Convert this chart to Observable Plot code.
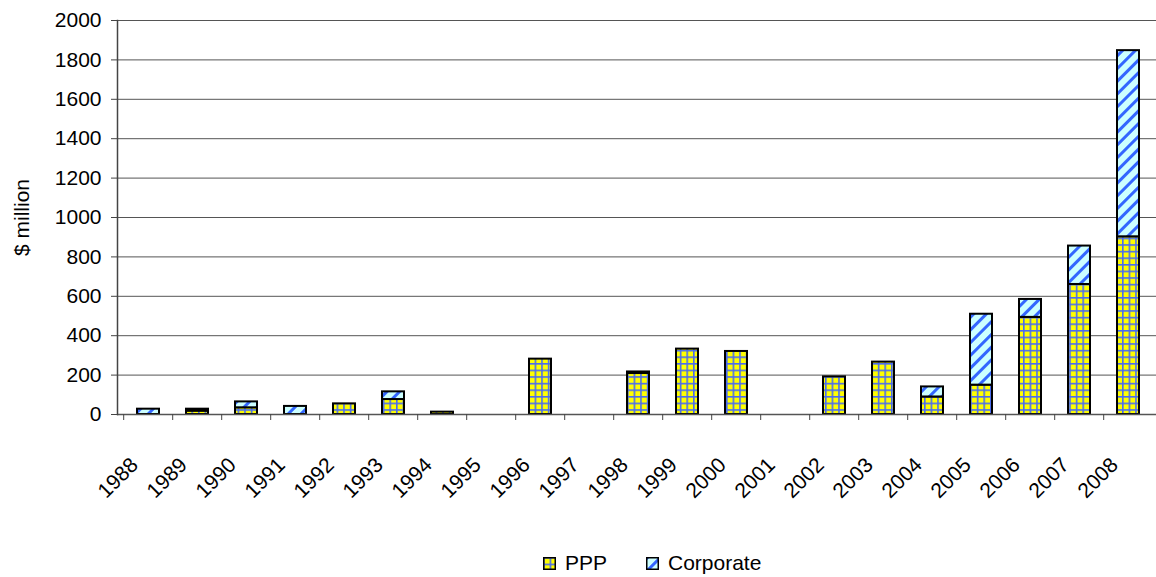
<!DOCTYPE html>
<html>
<head>
<meta charset="utf-8">
<script src="https://cdn.jsdelivr.net/npm/d3@7"></script>
<script src="https://cdn.jsdelivr.net/npm/@observablehq/plot@0.6"></script>
<style>
  html, body { margin: 0; padding: 0; background: #fff; }
  #wrap { position: relative; width: 1156px; height: 577px; overflow: hidden; font-family: "Liberation Sans", Arial, sans-serif; }
  .leg { position: absolute; top: 551px; display: flex; align-items: center; font-size: 21px; color: #000; }
  .leg svg { margin-right: 9px; }
</style>
</head>
<body>
<div id="wrap"></div>
<script>
// ---- data ----
const years = ["1988","1989","1990","1991","1992","1993","1994","1995","1996","1997","1998","1999","2000","2001","2002","2003","2004","2005","2006","2007","2008"];
const ppp       = [0, 17, 34, 0, 54, 76, 12, 0, 281, 0, 208, 332, 320, 0, 191, 266, 89, 149, 493, 660, 902];
const corporate = [27, 10, 30, 41, 0, 39, 0, 0, 0, 0, 8, 0, 0, 0, 0, 0, 51, 360, 91, 195, 945];
const seriesNames = ["PPP", "Corporate"];
const yTicks = [0, 200, 400, 600, 800, 1000, 1200, 1400, 1600, 1800, 2000];
const yLabel = "$ million";

const data = years.flatMap((y, i) => [
  {year: y, series: "PPP", value: ppp[i]},
  {year: y, series: "Corporate", value: corporate[i]}
]);

// ---- layout ----
const W = 1156, H = 540;
const mLeft = 117, mTop = 20, mBottom = 126;
const xRange = [mLeft, 1159];
const step = (xRange[1] - xRange[0]) / years.length;
const FONT = "'Liberation Sans', Arial, sans-serif";
const FS = 21;

const chart = Plot.plot({
  width: W,
  height: H,
  marginLeft: mLeft,
  marginRight: 0,
  marginTop: mTop,
  marginBottom: mBottom,
  style: {fontFamily: FONT, fontSize: FS + "px", color: "#000", background: "#fff", overflow: "hidden"},
  x: {domain: years, range: xRange, paddingInner: 0.55, paddingOuter: 0.275, label: null},
  y: {domain: [0, 2000], label: null},
  color: {type: "ordinal", domain: seriesNames, range: ["url(#pat-ppp)", "url(#pat-corp)"]},
  marks: [
    Plot.gridY(yTicks, {stroke: "#555", strokeOpacity: 1, strokeWidth: 1}),
    Plot.barY(data, {x: "year", y: "value", fill: "series", stroke: "#000", strokeWidth: 2, filter: d => d.value > 0}),
    Plot.ruleY([0], {stroke: "#555", strokeWidth: 1.5}),
    Plot.frame({anchor: "left", stroke: "#444", strokeWidth: 1.5}),
    Plot.ruleX(years, {x: d => d, y1: 0, y2: 0, insetBottom: -6, dx: -step / 2, stroke: "#444"}),
    Plot.axisY(yTicks, {tickSize: 6, tickPadding: 10, label: null, stroke: "#444", tickFormat: d => String(d), fontSize: FS, fill: "#000"}),
    Plot.axisX({tickSize: 0, tickRotate: -45, tickPadding: 47, dx: -14, label: null, fontSize: FS, fill: "#000"}),
    Plot.text([yLabel], {frameAnchor: "left", textAnchor: "middle", rotate: -90, dx: -95, fontSize: FS, fill: "#000"})
  ]
});

// pattern definitions
function addPatterns(svgSel) {
  const defs = svgSel.insert("defs", ":first-child");
  const p1 = defs.append("pattern").attr("id", "pat-ppp").attr("patternUnits", "userSpaceOnUse")
    .attr("width", 6.6).attr("height", 6.6);
  p1.append("rect").attr("width", 6.6).attr("height", 6.6).attr("fill", "#FFFF00");
  p1.append("rect").attr("x", 0).attr("y", 0).attr("width", 1.6).attr("height", 6.6).attr("fill", "#4A6CF0");
  p1.append("rect").attr("x", 0).attr("y", 0).attr("width", 6.6).attr("height", 1.6).attr("fill", "#4A6CF0");
  const p2 = defs.append("pattern").attr("id", "pat-corp").attr("patternUnits", "userSpaceOnUse")
    .attr("width", 9).attr("height", 9).attr("patternTransform", "rotate(45)");
  p2.append("rect").attr("width", 9).attr("height", 9).attr("fill", "#CCFFFF");
  p2.append("rect").attr("x", 0).attr("y", 0).attr("width", 3).attr("height", 9).attr("fill", "#3366FF");
}
addPatterns(d3.select(chart));
document.getElementById("wrap").appendChild(chart);

// legend
const legPos = [543, 646];
seriesNames.forEach((name, i) => {
  const item = document.createElement("div");
  item.className = "leg";
  item.style.left = legPos[i] + "px";
  const sw = d3.create("svg").attr("width", 13).attr("height", 13);
  sw.append("rect").attr("x", 0.75).attr("y", 0.75).attr("width", 11.5).attr("height", 11.5)
    .attr("fill", i === 0 ? "url(#pat-ppp)" : "url(#pat-corp)").attr("stroke", "#000").attr("stroke-width", 1.5);
  item.appendChild(sw.node());
  const t = document.createElement("span");
  t.textContent = name;
  item.appendChild(t);
  document.getElementById("wrap").appendChild(item);
});
</script>
</body>
</html>
